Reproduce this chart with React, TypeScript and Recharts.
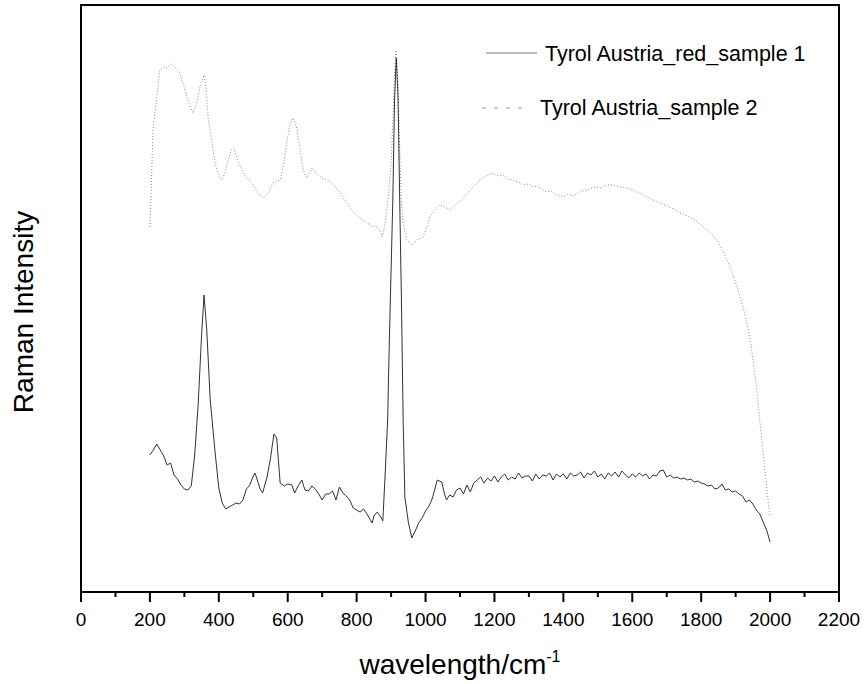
import React from "react";
import { LineChart, Line, XAxis, YAxis, ReferenceArea, Legend } from "recharts";

// sample 1 (solid dark line)
const s1Wavenumber = [
  200, 210, 220, 230, 240, 250, 260, 270, 280, 290, 300, 310, 320, 330, 340, 350, 357, 365, 375, 390,
  400, 410, 420, 430, 440, 450, 460, 470, 480, 490, 500, 505, 510, 520, 527, 540, 550, 560, 568, 578,
  590, 600, 612, 620, 630, 641, 650, 660, 670, 680, 690, 700, 710, 720, 730, 740, 750, 760, 770, 780,
  790, 800, 810, 820, 830, 840, 845, 850, 860, 870, 876, 882, 890, 895, 900, 905, 910, 915, 920, 925,
  930, 935, 940, 950, 960, 970, 980, 990, 1000, 1010, 1020, 1034, 1047, 1055, 1061, 1070, 1080, 1090, 1100, 1110,
  1120, 1130, 1140, 1150, 1160, 1170, 1180, 1190, 1200, 1210, 1220, 1230, 1240, 1250, 1260, 1270, 1280, 1290, 1300, 1310,
  1320, 1330, 1340, 1350, 1360, 1370, 1380, 1390, 1400, 1410, 1420, 1430, 1440, 1450, 1460, 1470, 1480, 1490, 1500, 1510,
  1520, 1530, 1540, 1550, 1560, 1570, 1580, 1590, 1600, 1610, 1620, 1630, 1640, 1650, 1660, 1670, 1680, 1690, 1700, 1710,
  1720, 1730, 1740, 1750, 1760, 1770, 1780, 1790, 1800, 1810, 1820, 1830, 1840, 1850, 1860, 1870, 1880, 1890, 1900, 1910,
  1920, 1930, 1940, 1950, 1960, 1970, 1980, 1990, 2000,
];
const s1Intensity = [
  137, 142, 148, 142, 136, 127, 129, 117, 113, 107, 103, 102, 106, 137, 187, 257, 297, 262, 192, 137,
  104, 89, 83, 85, 87, 89, 88, 92, 103, 107, 116, 119, 114, 103, 99, 115, 134, 158, 154, 109,
  106, 108, 107, 99, 106, 112, 102, 101, 106, 103, 98, 92, 98, 98, 101, 92, 105, 99, 96, 92,
  84, 82, 80, 83, 78, 72, 69, 76, 80, 75, 71, 112, 172, 252, 322, 392, 492, 534, 497, 392,
  292, 172, 95, 70, 54, 61, 69, 74, 81, 86, 94, 112, 110, 98, 92, 97, 95, 102, 104, 98,
  107, 100, 109, 112, 115, 109, 114, 111, 116, 110, 115, 118, 112, 115, 113, 119, 114, 116, 116, 111,
  118, 113, 117, 116, 119, 112, 118, 115, 118, 113, 119, 116, 117, 120, 114, 119, 117, 121, 115, 118,
  113, 119, 116, 120, 115, 121, 117, 114, 118, 115, 119, 116, 118, 113, 117, 116, 121, 122, 115, 117,
  114, 115, 113, 114, 112, 113, 110, 111, 109, 108, 106, 107, 103, 104, 108, 102, 103, 100, 101, 98,
  96, 90, 92, 88, 82, 78, 70, 62, 50,
];

// sample 2 (dotted light line)
const s2Wavenumber = [
  200, 205, 209, 215, 220, 229, 240, 250, 260, 267, 275, 285, 296, 310, 325, 335, 345, 357, 363, 369,
  380, 389, 403, 410, 418, 427, 436, 444, 455, 467, 480, 491, 505, 518, 531, 545, 557, 568, 578, 588,
  597, 606, 615, 624, 633, 645, 655, 663, 671, 685, 700, 715, 729, 740, 752, 770, 790, 810, 830, 845,
  860, 870, 874, 880, 888, 895, 900, 906, 910, 914, 917, 921, 926, 930, 935, 945, 955, 961, 975, 993,
  1005, 1013, 1025, 1042, 1055, 1071, 1085, 1100, 1115, 1130, 1149, 1165, 1180, 1196, 1210, 1225, 1240, 1254, 1270, 1285,
  1300, 1312, 1325, 1340, 1352, 1365, 1380, 1399, 1415, 1430, 1450, 1469, 1490, 1510, 1525, 1544, 1565, 1585, 1602, 1620,
  1643, 1660, 1680, 1700, 1720, 1739, 1760, 1780, 1800, 1817, 1835, 1850, 1865, 1875, 1890, 1900, 1913, 1925, 1937, 1945,
  1951, 1960, 1966, 1973, 1980, 1987, 1994, 2000,
];
const s2Intensity = [
  365, 417, 462, 482, 495, 522, 525, 524, 528, 527, 524, 520, 509, 492, 479, 488, 505, 517, 502, 475,
  449, 429, 414, 412, 420, 432, 442, 444, 432, 422, 414, 412, 404, 397, 394, 400, 409, 411, 412, 427,
  449, 467, 474, 467, 449, 422, 414, 420, 424, 418, 414, 412, 409, 404, 399, 390, 380, 374, 369, 366,
  365, 360, 355, 364, 382, 407, 429, 479, 517, 542, 532, 495, 429, 392, 369, 352, 349, 347, 352, 355,
  366, 375, 382, 387, 385, 382, 387, 391, 396, 402, 409, 414, 417, 419, 416, 417, 413, 412, 410, 407,
  408, 405, 406, 402, 400, 401, 397, 395, 398, 396, 401, 402, 405, 404, 407, 407, 405, 404, 402, 399,
  395, 392, 389, 386, 383, 379, 376, 372, 367, 362, 356, 349, 340, 332, 319, 309, 295, 280, 262, 247,
  229, 207, 185, 162, 139, 115, 92, 75,
];

const xTicks = [0, 100, 200, 300, 400, 500, 600, 700, 800, 900, 1000, 1100, 1200, 1300, 1400, 1500, 1600, 1700, 1800, 1900, 2000, 2100, 2200];

const seriesNames = ["Tyrol Austria_red_sample 1", "Tyrol Austria_sample 2"];

const s1Data = s1Wavenumber.map((w, i) => ({ w, v: s1Intensity[i] }));
const s2Data = s2Wavenumber.map((w, i) => ({ w, v: s2Intensity[i] }));

const FONT = "'Liberation Sans', Arial, sans-serif";

function XTick(props: any) {
  const { x, y, payload } = props;
  const axisY = y - 20;
  const major = payload.value % 200 === 0;
  return (
    <g>
      <line x1={x} x2={x} y1={axisY} y2={axisY + (major ? 10 : 5)} stroke="#000" strokeWidth={2} />
      {major && (
        <text x={x} y={y} dy="0.716em" textAnchor="middle" fontSize={19} fontFamily={FONT} fill="#000">
          {payload.value}
        </text>
      )}
    </g>
  );
}

function XTitle() {
  return (
    <text x={460} y={674} textAnchor="middle" fontSize={28} fontFamily={FONT} fill="#000">
      wavelength/cm
      <tspan fontSize={16} dy={-12}>-1</tspan>
    </text>
  );
}

function YTitle() {
  return (
    <text x={33} y={312} transform="rotate(-90 33 312)" textAnchor="middle" fontSize={28} fontFamily={FONT} fill="#000">
      Raman Intensity
    </text>
  );
}

function LegendBox() {
  return (
    <svg width={864} height={130} style={{ display: "block" }}>
      <line x1={486} x2={537} y1={53} y2={53} stroke="#777" strokeWidth={1.2} />
      <text x={545} y={61} fontSize={21.5} fontFamily={FONT} fill="#000">{seriesNames[0]}</text>
      <line x1={482} x2={530} y1={108} y2={108} stroke="#999" strokeWidth={1} strokeDasharray="4 8" />
      <text x={540} y={115} fontSize={21.5} fontFamily={FONT} fill="#000">{seriesNames[1]}</text>
    </svg>
  );
}

export default function App() {
  return (
    <div style={{ position: "absolute", left: 0, top: 0, background: "#fff" }}>
      <LineChart width={864} height={684} margin={{ top: 5, right: 25, bottom: 0, left: 0 }}>
        <XAxis
          dataKey="w"
          type="number"
          domain={[0, 2200]}
          ticks={xTicks}
          interval={0}
          height={92}
          tickSize={10}
          tickMargin={10}
          tickLine={false}
          tick={<XTick />}
          axisLine={{ stroke: "#000", strokeWidth: 2 }}
          allowDuplicatedCategory={false}
          label={<XTitle />}
        />
        <YAxis
          type="number"
          domain={[0, 587]}
          width={81}
          tick={false}
          tickLine={false}
          axisLine={{ stroke: "#000", strokeWidth: 2 }}
          label={<YTitle />}
        />
        <ReferenceArea x1={0} x2={2200} y1={0} y2={587} fill="none" stroke="#000" strokeWidth={2} />
        <Line
          data={s2Data}
          dataKey="v"
          name={seriesNames[1]}
          type="linear"
          stroke="#888"
          strokeWidth={1}
          strokeDasharray="1 2"
          dot={false}
          isAnimationActive={false}
        />
        <Line
          data={s1Data}
          dataKey="v"
          name={seriesNames[0]}
          type="linear"
          stroke="#333"
          strokeWidth={1}
          dot={false}
          isAnimationActive={false}
        />
        <Legend
          layout="horizontal"
          verticalAlign="middle"
          align="center"
          content={() => <LegendBox />}
          wrapperStyle={{ position: "absolute", left: 0, top: 0, width: 864, height: 130 }}
        />
      </LineChart>
    </div>
  );
}
